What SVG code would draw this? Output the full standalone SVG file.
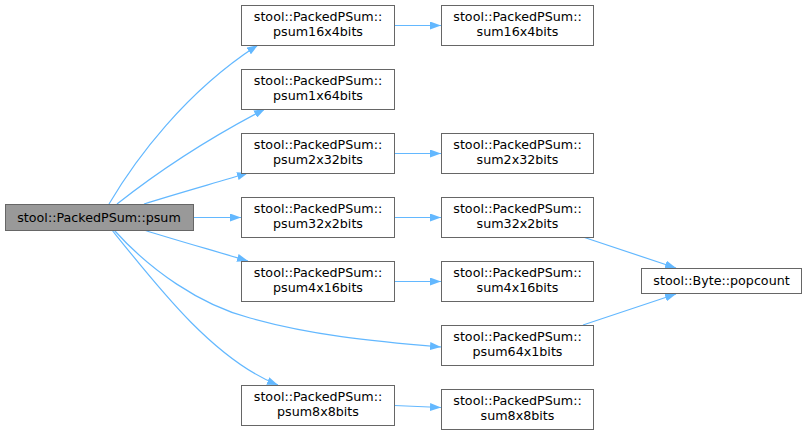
<svg xmlns="http://www.w3.org/2000/svg" width="807" height="435" viewBox="0 0 807 435">
<defs>
<style>
.n rect{fill:#fff;stroke:#666;stroke-width:1}
.n.cur rect{fill:#999}
.n text{font-family:"DejaVu Sans",sans-serif;font-size:12.7px;fill:#000;text-anchor:middle}
.e path{fill:none;stroke:#63b8ff;stroke-width:1.2;marker-end:url(#ah)}
</style>
<marker id="ah" markerUnits="userSpaceOnUse" markerWidth="11" markerHeight="8" refX="11" refY="4" orient="auto">
<path d="M0,0 L11,4 L0,8 z" fill="#63b8ff"/>
</marker>
</defs>
<rect width="807" height="435" fill="#fff"/>
<g id="edges" class="e">
<path d="M109,204 C135,160 185,92 258,45"/>
<path d="M117,204 C160,170 215,135 265,109"/>
<path d="M144,204 C175,194 215,183 248,173"/>
<path d="M193.5,217.5 L241,217.5"/>
<path d="M144,230 C175,240 215,251 248,261"/>
<path d="M114,230 C150,270 200,305 250,318 C310,335 370,341 441,347"/>
<path d="M112,230 C160,290 215,360 278,385"/>
<path d="M394.5,25.5 L441,25.5"/>
<path d="M394.5,153.5 L441,153.5"/>
<path d="M394.5,217.5 L441,217.5"/>
<path d="M394.5,281.5 L441,281.5"/>
<path d="M394.5,405.5 L441,407.5"/>
<path d="M583,237 L676,268"/>
<path d="M583,325 L676,294"/>
</g>
<g id="psum" class="n cur"><rect x="5.5" y="204.5" width="188" height="26"/><text x="99" y="221.5">stool::PackedPSum::psum</text></g>
<g id="psum16x4bits" class="n"><rect x="241.5" y="5.5" width="153" height="40"/><text x="318" y="20.7">stool::PackedPSum::</text><text x="318" y="35.7">psum16x4bits</text></g>
<g id="psum1x64bits" class="n"><rect x="241.5" y="69.5" width="153" height="40"/><text x="318" y="84.7">stool::PackedPSum::</text><text x="318" y="99.7">psum1x64bits</text></g>
<g id="psum2x32bits" class="n"><rect x="241.5" y="133.5" width="153" height="40"/><text x="318" y="148.7">stool::PackedPSum::</text><text x="318" y="163.7">psum2x32bits</text></g>
<g id="psum32x2bits" class="n"><rect x="241.5" y="197.5" width="153" height="40"/><text x="318" y="212.7">stool::PackedPSum::</text><text x="318" y="227.7">psum32x2bits</text></g>
<g id="psum4x16bits" class="n"><rect x="241.5" y="261.5" width="153" height="40"/><text x="318" y="276.7">stool::PackedPSum::</text><text x="318" y="291.7">psum4x16bits</text></g>
<g id="psum8x8bits" class="n"><rect x="241.5" y="385.5" width="153" height="40"/><text x="318" y="400.7">stool::PackedPSum::</text><text x="318" y="415.7">psum8x8bits</text></g>
<g id="sum16x4bits" class="n"><rect x="441.5" y="5.5" width="152" height="40"/><text x="517.5" y="20.7">stool::PackedPSum::</text><text x="517.5" y="35.7">sum16x4bits</text></g>
<g id="sum2x32bits" class="n"><rect x="441.5" y="133.5" width="152" height="40"/><text x="517.5" y="148.7">stool::PackedPSum::</text><text x="517.5" y="163.7">sum2x32bits</text></g>
<g id="sum32x2bits" class="n"><rect x="441.5" y="197.5" width="152" height="40"/><text x="517.5" y="212.7">stool::PackedPSum::</text><text x="517.5" y="227.7">sum32x2bits</text></g>
<g id="sum4x16bits" class="n"><rect x="441.5" y="261.5" width="152" height="40"/><text x="517.5" y="276.7">stool::PackedPSum::</text><text x="517.5" y="291.7">sum4x16bits</text></g>
<g id="psum64x1bits" class="n"><rect x="441.5" y="325.5" width="152" height="40"/><text x="517.5" y="340.7">stool::PackedPSum::</text><text x="517.5" y="355.7">psum64x1bits</text></g>
<g id="sum8x8bits" class="n"><rect x="441.5" y="389.5" width="152" height="40"/><text x="517.5" y="404.7">stool::PackedPSum::</text><text x="517.5" y="419.7">sum8x8bits</text></g>
<g id="popcount" class="n"><rect x="641.5" y="268.5" width="160" height="25"/><text x="721.5" y="285">stool::Byte::popcount</text></g>
</svg>
